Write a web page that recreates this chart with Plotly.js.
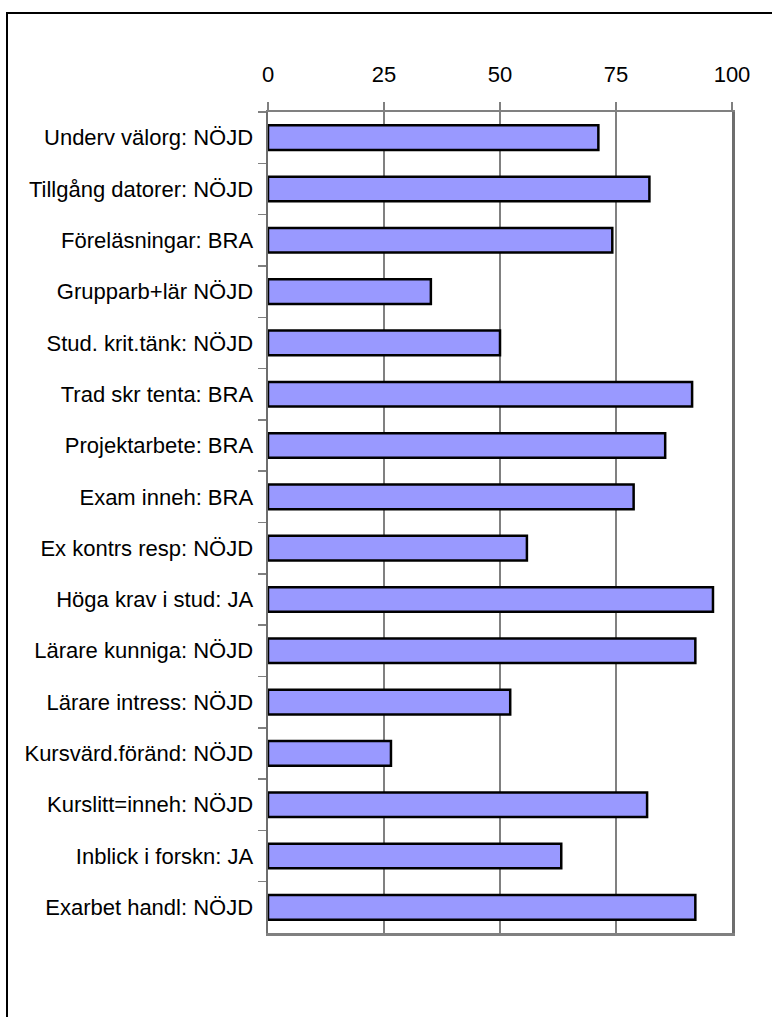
<!DOCTYPE html>
<html>
<head>
<meta charset="utf-8">
<script src="https://cdn.plot.ly/plotly-3.0.1.min.js"></script>
<style>
html,body{margin:0;padding:0;background:#fff;}
#chart{width:772px;height:1017px;}
</style>
</head>
<body>
<div id="chart"></div>
<script>
const categories = [
  "Underv välorg: NÖJD",
  "Tillgång datorer: NÖJD",
  "Föreläsningar: BRA",
  "Grupparb+lär NÖJD",
  "Stud. krit.tänk: NÖJD",
  "Trad skr tenta: BRA",
  "Projektarbete: BRA",
  "Exam inneh: BRA",
  "Ex kontrs resp: NÖJD",
  "Höga krav i stud: JA",
  "Lärare kunniga: NÖJD",
  "Lärare intress: NÖJD",
  "Kursvärd.föränd: NÖJD",
  "Kurslitt=inneh: NÖJD",
  "Inblick i forskn: JA",
  "Exarbet handl: NÖJD"
];
const values = [71.2, 82.2, 74.2, 35.1, 50.0, 91.4, 85.6, 78.8, 55.8, 95.9, 92.1, 52.2, 26.5, 81.7, 63.2, 92.1];
const xTickVals = [0, 25, 50, 75, 100];
const xTickText = ["0", "25", "50", "75", "100"];

const L = 268, R = 40, T = 112, B = 84, W = 772, H = 1017;
const pw = W - L - R, ph = H - T - B;
function px(x){ return (x - L) / pw; }
function py(y){ return (H - B - y) / ph; }

const font = {family: "Liberation Sans, Arial, sans-serif", size: 22, color: "#000"};

const data = [{
  type: "bar",
  orientation: "h",
  y: categories,
  x: values,
  width: 0.48,
  marker: {color: "#9999FF", line: {color: "#000", width: 2.5}},
  hoverinfo: "x+y"
}];

const layout = {
  width: W, height: H,
  margin: {l: L, r: R, t: T, b: B, pad: 0},
  paper_bgcolor: "#fff",
  plot_bgcolor: "#fff",
  font: font,
  showlegend: false,
  xaxis: {
    side: "top",
    range: [0, 100],
    tickvals: xTickVals,
    ticktext: xTickText,
    ticks: "outside",
    ticklen: 8,
    tickwidth: 1.5,
    tickcolor: "#808080",
    showgrid: true,
    gridcolor: "#808080",
    gridwidth: 1.5,
    showline: true,
    linecolor: "#808080",
    linewidth: 2.5,
    mirror: true,
    zeroline: false,
    ticklabelstandoff: 11,
    tickfont: font,
    fixedrange: true
  },
  yaxis: {
    type: "category",
    autorange: "reversed",
    ticks: "outside",
    tickson: "boundaries",
    ticklen: 8,
    tickwidth: 1.5,
    tickcolor: "#808080",
    showgrid: false,
    showline: true,
    linecolor: "#6e6e6e",
    linewidth: 2.5,
    mirror: true,
    ticklabelstandoff: 8,
    tickfont: font,
    fixedrange: true
  },
  shapes: [
    {type: "line", xref: "paper", yref: "paper", x0: px(7), x1: px(7), y0: py(13), y1: py(1030), line: {color: "#000", width: 2}},
    {type: "line", xref: "paper", yref: "paper", x0: px(6), x1: px(790), y0: py(13), y1: py(13), line: {color: "#000", width: 2}}
  ]
};

Plotly.newPlot("chart", data, layout, {displayModeBar: false, staticPlot: true});
</script>
</body>
</html>
